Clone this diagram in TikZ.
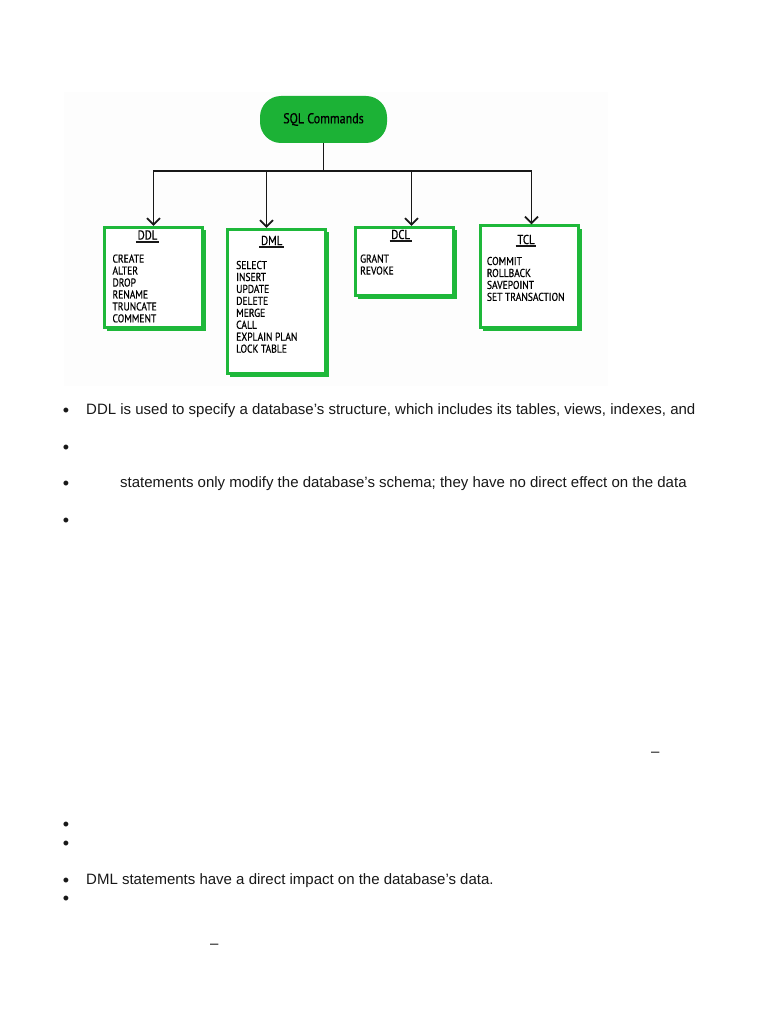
\documentclass[tikz,border=0pt]{standalone}
\usepackage{fontspec}
\setmainfont{Liberation Sans}
\newfontfamily\diagfont[FakeStretch=0.84, FakeBold=0.6]{PT Sans}
\usepackage{tikz}
\usetikzlibrary{positioning,arrows.meta,shadows}
\definecolor{SqlGreen}{RGB}{30,184,58}
\definecolor{PillGreen}{RGB}{28,178,54}
\definecolor{PanelTint}{RGB}{253,253,253}
\definecolor{inkgray}{RGB}{24,24,24}

\begin{document}
\begin{tikzpicture}[x=1pt, y=-1pt,
    cmdbox/.style={
        rectangle, draw=SqlGreen, line width=2.6pt, fill=white,
        minimum width=98.5pt, inner sep=0pt,
        drop shadow={shadow xshift=3pt, shadow yshift=-3pt, fill=SqlGreen, opacity=1}
    },
    pill/.style={rectangle, rounded corners=21pt, fill=PillGreen,
        minimum width=127pt, minimum height=47pt,
        font=\diagfont\fontsize{14.3}{16}\selectfont},
    hdr/.style={font=\diagfont\fontsize{12.9}{14}\selectfont, inner xsep=1.5pt, inner ysep=2pt},
    cmdlist/.style={font=\diagfont\fontsize{11.4}{11.95}\selectfont,
        align=left, anchor=north west, inner sep=0pt},
    wire/.style={line width=1.8pt, inkgray},
    arrow/.style={wire, -{Straight Barb[length=6.5pt, width=13pt]}},
    uline/.style={line width=1.8pt, inkgray},
    bullet/.style={anchor=base, inner sep=0pt, font=\fontsize{18}{18}\selectfont, text=inkgray},
    para/.style={anchor=base west, inner sep=0pt, font=\fontsize{15}{18}\selectfont, text=inkgray}
]
\fill[white] (0,0) rectangle (768,1024);
\useasboundingbox (0,0) rectangle (768,1024);
\fill[PanelTint] (64,92) rectangle (608,386);

\node[pill] (sql) at (323.5,119.5) {SQL Commands};

\node[cmdbox, minimum height=100.5pt] (ddl) at (153.5,277.5) {};
\node[cmdbox, minimum height=144.5pt] (dml) at (276.5,301.5) {};
\node[cmdbox, minimum height=68.5pt] (dcl) at (404.5,261.5) {};
\node[cmdbox, minimum height=102pt] (tcl) at (529.5,276.7) {};

\node[hdr] (ddlhd) at (147.5,235) {DDL};
\node[hdr] (dmlhd) at (271.7,240.5) {DML};
\node[hdr] (dclhd) at (400.7,234.5) {DCL};
\node[hdr] (tclhd) at (526,239.5) {TCL};

\draw[uline] (ddlhd.south west) -- (ddlhd.south east);
\draw[uline] (dmlhd.south west) -- (dmlhd.south east);
\draw[uline] (dclhd.south west) -- (dclhd.south east);
\draw[uline] (tclhd.south west) -- (tclhd.south east);

\node[cmdlist] (ddlcmds) at (112.3,254.3) {CREATE\\ALTER\\DROP\\RENAME\\TRUNCATE\\COMMENT};
\node[cmdlist] (dmlcmds) at (236,260.7) {SELECT\\INSERT\\UPDATE\\DELETE\\MERGE\\CALL\\EXPLAIN PLAN\\LOCK TABLE};
\node[cmdlist] (dclcmds) at (360,254.3) {GRANT\\REVOKE};
\node[cmdlist] (tclcmds) at (486.7,256.7) {COMMIT\\ROLLBACK\\SAVEPOINT\\SET TRANSACTION};

\coordinate (bus) at (323.5,171);
\coordinate (dmlin) at ([xshift=-10pt]dml.north);
\coordinate (dclin) at ([xshift=7pt]dcl.north);
\coordinate (tclin) at ([xshift=2pt]tcl.north);

\draw[wire] (sql) -- (bus);
\draw[wire, line cap=rect] (ddl.north |- bus) -- (tclin |- bus);
\draw[arrow] (ddl.north |- bus) -- (ddl.north);
\draw[arrow] (dmlin |- bus) -- (dmlin);
\draw[arrow] (dclin |- bus) -- (dclin);
\draw[arrow] (tclin |- bus) -- (tclin);

\node[bullet] (b1) at (66,416.3) {•};
\node[para] (p1) at (86,414.5) {DDL is used to specify a database’s structure, which includes its tables, views, indexes, and};
\node[bullet] (b2) at (66,453.3) {•};
\node[bullet] (b3) at (66,489.3) {•};
\node[para] (p3) at (120,487.5) {statements only modify the database’s schema; they have no direct effect on the data};
\node[bullet] (b4) at (66,526.3) {•};
\node[para] (d1) at (651,756) {–};
\node[bullet] (b5) at (66,830.8) {•};
\node[bullet] (b6) at (66,849.3) {•};
\node[bullet] (b7) at (66,886.3) {•};
\node[para] (p7) at (86,884.5) {DML statements have a direct impact on the database’s data.};
\node[bullet] (b8) at (66,904.8) {•};
\node[para] (d2) at (210,948) {–};
\end{tikzpicture}
\end{document}
